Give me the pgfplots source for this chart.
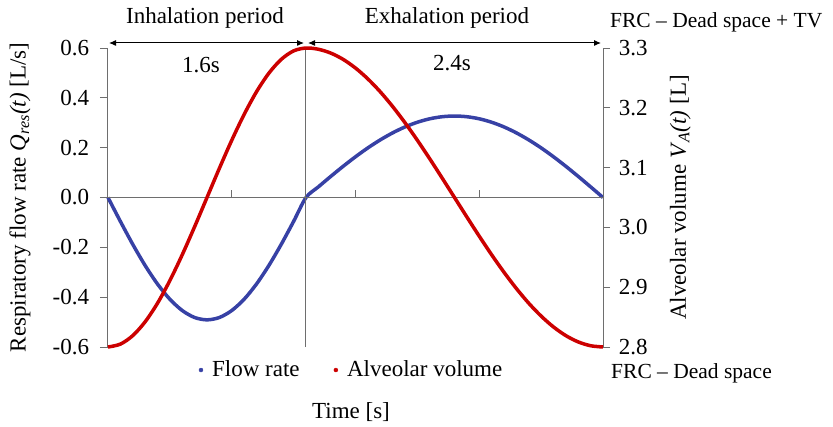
\documentclass[border=0pt]{standalone}
\usepackage{pgfplots}
\pgfplotsset{compat=1.18}
\usepackage{pgfplotstable}
\usepackage{fontspec}
\setmainfont{Liberation Serif}
\usetikzlibrary{arrows.meta}
\definecolor{flowblue}{RGB}{55,65,165}
\definecolor{volred}{RGB}{204,0,0}
\definecolor{axgray}{RGB}{110,110,110}

\pgfplotstableread{
t q
0.0 0
0.1 -0.0958
0.2 -0.1879
0.3 -0.2728
0.4 -0.3472
0.5 -0.4083
0.6 -0.4536
0.7 -0.4816
0.8 -0.4910
0.9 -0.4816
1.0 -0.4536
1.1 -0.4083
1.2 -0.3472
1.3 -0.2728
1.4 -0.1879
1.5 -0.0958
1.6 0
1.7 0.0427
1.8 0.0846
1.9 0.1251
2.0 0.1635
2.1 0.1991
2.2 0.2312
2.3 0.2594
2.4 0.2832
2.5 0.3021
2.6 0.3159
2.7 0.3242
2.8 0.3270
2.9 0.3242
3.0 0.3159
3.1 0.3021
3.2 0.2832
3.3 0.2594
3.4 0.2312
3.5 0.1991
3.6 0.1635
3.7 0.1251
3.8 0.0846
3.9 0.0427
4.0 0
}\flowtable

\pgfplotstableread{
t v
0.0 2.8000
0.1 2.8048
0.2 2.8190
0.3 2.8421
0.4 2.8732
0.5 2.9111
0.6 2.9543
0.7 3.0012
0.8 3.0500
0.9 3.0988
1.0 3.1457
1.1 3.1889
1.2 3.2268
1.3 3.2579
1.4 3.2810
1.5 3.2952
1.6 3.3000
1.7 3.2979
1.8 3.2915
1.9 3.2810
2.0 3.2665
2.1 3.2483
2.2 3.2268
2.3 3.2022
2.4 3.1750
2.5 3.1457
2.6 3.1147
2.7 3.0826
2.8 3.0500
2.9 3.0174
3.0 2.9853
3.1 2.9543
3.2 2.9250
3.3 2.8978
3.4 2.8732
3.5 2.8517
3.6 2.8335
3.7 2.8190
3.8 2.8085
3.9 2.8021
4.0 2.8000
}\voltable

\begin{document}
\fontsize{23}{27}\selectfont
\begin{tikzpicture}
\begin{axis}[
  name=ax,
  at={(0pt,0pt)}, anchor=south west,
  scale only axis, width=495pt, height=299pt,
  xmin=0, xmax=4, ymin=-0.6, ymax=0.6,
  clip=false,
  hide x axis,
  axis y line*=left,
  y axis line style={-, axgray, line width=1pt},
  ytick={-0.6,-0.4,-0.2,0,0.2,0.4,0.6},
  yticklabel style={xshift=-3pt, /pgf/number format/.cd, fixed, fixed zerofill, precision=1, assume math mode=true},
  tick align=outside, major tick length=8pt,
  tick style={axgray, line width=1pt},
  ylabel={Respiratory flow rate \textit{Q}\textsubscript{\textit{res}}\textit{(t)} [L/s]},
  ylabel style={at={(axis description cs:-0.178,0.5)}, anchor=center, rotate=0},
  legend columns=2,
  legend style={at={(axis description cs:0.492,-0.077)}, anchor=center, draw=none, fill=none,
    /tikz/every even column/.append style={column sep=32pt},
    /tikz/every odd column/.append style={column sep=7pt}},
  legend image code/.code={\fill (2pt,0pt) circle (2pt);},
]
\addplot[flowblue, line width=3.5pt, smooth, forget plot] table[x=t, y=q] {\flowtable};
\addlegendimage{flowblue}
\addlegendentry{Flow rate}
\addlegendimage{volred}
\addlegendentry{Alveolar volume}
\draw[axgray, line width=1pt] (axis cs:0,0) -- (axis cs:4,0);
\draw[axgray, line width=1pt] (axis cs:1.6,-0.6) -- (axis cs:1.6,0.6);
\draw[axgray, line width=1pt] (axis cs:1,0) -- ([yshift=8pt]axis cs:1,0);
\draw[axgray, line width=1pt] (axis cs:2,0) -- ([yshift=8pt]axis cs:2,0);
\draw[axgray, line width=1pt] (axis cs:3,0) -- ([yshift=8pt]axis cs:3,0);
\end{axis}
\begin{axis}[
  at={(ax.south west)}, anchor=south west,
  scale only axis, width=495pt, height=299pt,
  xmin=0, xmax=4, ymin=2.8, ymax=3.3,
  clip=false,
  hide x axis,
  axis y line*=right,
  y axis line style={-, axgray, line width=1pt},
  ytick={2.8,2.9,3.0,3.1,3.2,3.3},
  yticklabel style={xshift=1pt, /pgf/number format/.cd, fixed, fixed zerofill, precision=1, assume math mode=true},
  tick align=outside, major tick length=7pt,
  tick style={axgray, line width=1pt},
  ylabel={Alveolar volume \textit{V}\textsubscript{\textit{A}}\textit{(t)} [L]},
  ylabel style={at={(axis description cs:1.156,0.5)}, anchor=center, rotate=0},
]
\addplot[volred, line width=3.5pt, smooth] table[x=t, y=v] {\voltable};
\end{axis}
\draw[black, line width=1pt, {Latex[length=7pt,width=6pt]}-{Latex[length=7pt,width=6pt]}] ([shift={(1pt,304pt)}]ax.south west) -- ([shift={(196pt,304pt)}]ax.south west);
\draw[black, line width=1pt, {Latex[length=7pt,width=6pt]}-{Latex[length=7pt,width=6pt]}] ([shift={(200pt,304pt)}]ax.south west) -- ([shift={(493pt,304pt)}]ax.south west);
\node at ([shift={(97pt,329pt)}]ax.south west) {Inhalation period};
\node at ([shift={(339pt,329pt)}]ax.south west) {Exhalation period};
\node[anchor=west, inner sep=0pt, font=\fontsize{21.5}{25}\selectfont] at ([shift={(502pt,325pt)}]ax.south west) {FRC -- Dead space + TV};
\node[anchor=west, inner sep=0pt, font=\fontsize{21.5}{25}\selectfont] at ([shift={(503pt,-26pt)}]ax.south west) {FRC -- Dead space};
\node at ([shift={(93pt,282pt)}]ax.south west) {1.6s};
\node at ([shift={(344pt,284pt)}]ax.south west) {2.4s};
\node at ([shift={(243pt,-65pt)}]ax.south west) {Time [s]};
\pgfresetboundingbox
\useasboundingbox ([shift={(-108pt,-79pt)}]ax.south west) rectangle ([shift={(725pt,347pt)}]ax.south west);
\end{tikzpicture}
\end{document}
